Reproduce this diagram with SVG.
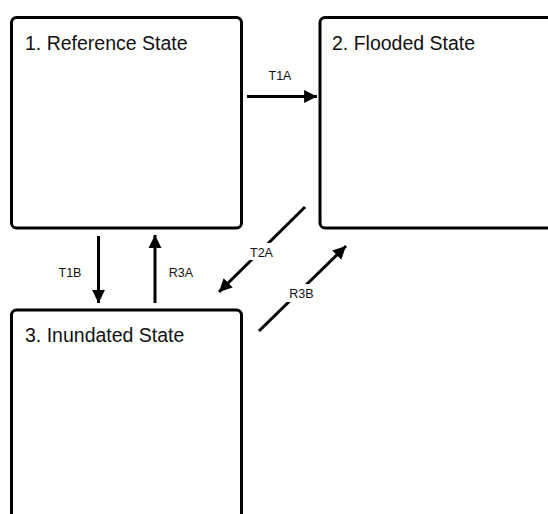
<svg xmlns="http://www.w3.org/2000/svg" width="548" height="514" viewBox="0 0 548 514">
<defs>
<style>
.box{fill:#fff;stroke:#000;stroke-width:3}
.title{font-family:"Liberation Sans",Arial,sans-serif;font-size:19.5px;fill:#111}
.lbl{font-family:"Liberation Sans",Arial,sans-serif;font-size:12.5px;fill:#111;text-anchor:middle}
.edge{stroke:#000;stroke-width:3;fill:none;marker-end:url(#ah)}
</style>
<marker id="ah" viewBox="0 0 10 10" refX="10" refY="5" markerWidth="4.3" markerHeight="4.6" markerUnits="strokeWidth" orient="auto">
<path d="M0,0 L10,5 L0,10 z" fill="#000"/>
</marker>
</defs>
<rect width="548" height="514" fill="#fff"/>
<g id="node1">
<rect class="box" x="11.5" y="17.5" width="230" height="210.5" rx="5"/>
<text class="title" x="25" y="50">1. Reference State</text>
</g>
<g id="node2">
<rect class="box" x="320" y="17.5" width="260" height="210.5" rx="5"/>
<text class="title" x="332" y="50">2. Flooded State</text>
</g>
<g id="node3">
<rect class="box" x="11.5" y="310" width="230" height="230" rx="5"/>
<text class="title" x="25" y="342">3. Inundated State</text>
</g>
<g id="connectors">
<line class="edge" x1="247" y1="96.5" x2="317" y2="96.5"/>
<text class="lbl" x="280" y="80">T1A</text>
<line class="edge" x1="98.5" y1="236" x2="98.5" y2="303"/>
<text class="lbl" x="70" y="277">T1B</text>
<line class="edge" x1="155" y1="303" x2="155" y2="235"/>
<text class="lbl" x="181" y="277">R3A</text>
<line class="edge" x1="305" y1="207" x2="219" y2="292"/>
<rect x="247" y="243" width="29" height="17" fill="#fff"/>
<text class="lbl" x="261.5" y="256.5">T2A</text>
<line class="edge" x1="259" y1="331" x2="346" y2="246"/>
<rect x="286" y="284" width="31" height="18" fill="#fff"/>
<text class="lbl" x="301.5" y="298">R3B</text>
</g>
</svg>
